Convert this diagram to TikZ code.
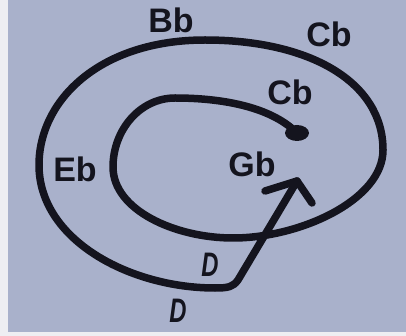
\documentclass[tikz,border=0pt]{standalone}
\usepackage{fontspec}
\setmainfont{Liberation Sans}
\definecolor{screen}{HTML}{A9B1CB}
\definecolor{ink}{HTML}{14141E}
\definecolor{edge}{HTML}{EEEEF2}
\begin{document}
\begin{tikzpicture}[x=1pt,y=-1pt,
  curve/.style={draw=ink,line width=7.5pt,line cap=round,line join=round},
  note/.style={text=ink,font=\fontsize{34}{34}\selectfont\bfseries,inner sep=0pt},
  hand/.style={text=ink,font=\fontsize{34}{34}\selectfont\bfseries\itshape,inner sep=0pt,xscale=0.7}]
\useasboundingbox (0,0) rectangle (406,336);
\fill[edge] (0,0) rectangle (406,336);
\fill[screen] (8,0) rectangle (406,332);
% spiral
\coordinate (start) at (297,133);
\coordinate (itop) at (175,98);
\coordinate (ileft) at (113,167);
\coordinate (ibot) at (233,238);
\coordinate (oright) at (383,150);
\coordinate (otop) at (205,40);
\coordinate (oleft) at (39,165);
\coordinate (obot) at (215,288);
\coordinate (corner) at (238,280);
\coordinate (tip) at (297,181);
\coordinate (armL) at (265,191);
\coordinate (armR) at (312,203);
\draw[curve] (start) .. controls (270,106) and (220,98) .. (itop)
  .. controls (140,98) and (113,130) .. (ileft)
  .. controls (113,210) and (175,238) .. (ibot)
  .. controls (300,238) and (383,200) .. (oright)
  .. controls (383,82) and (310,40) .. (otop)
  .. controls (100,40) and (39,100) .. (oleft)
  .. controls (39,240) and (130,288) .. (obot)
  .. controls (228,288) and (233,287) .. (corner)
  -- (tip);
\draw[curve] (armL) -- (tip) -- (armR);
\fill[ink] (start) ellipse [x radius=12pt, y radius=8pt];
% labels
\node[note] (bb) at (171,20) {Bb};
\node[note] (cb1) at (329,34) {Cb};
\node[note] (cb2) at (290,92) {Cb};
\node[note] (eb) at (75,169) {Eb};
\node[note] (gb) at (252,164) {Gb};
\node[hand] (d1) at (210,265) {D};
\node[hand] (d2) at (178,311) {D};
\end{tikzpicture}
\end{document}
